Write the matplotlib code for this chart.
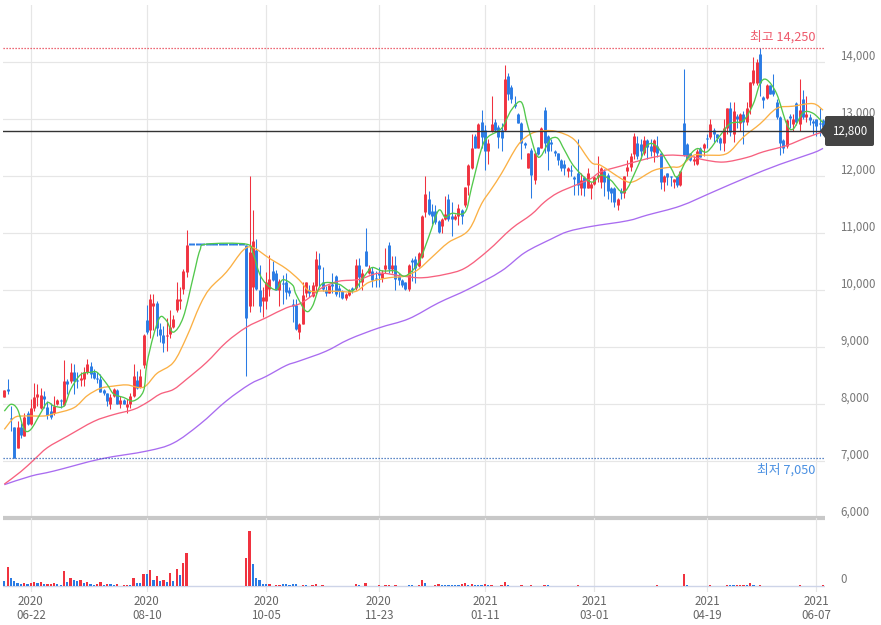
import matplotlib
matplotlib.use("Agg")
import matplotlib.pyplot as plt
from matplotlib.patches import FancyBboxPatch, PathPatch, Polygon
from matplotlib.path import Path
from matplotlib.transforms import Affine2D
import numpy as np

plt.rcParams["font.family"] = ["Noto Sans CJK KR", "DejaVu Sans"]

# =========================
# DATA
# =========================

FLAT = 17  # trading halt, price stays at 10800

opens = [
    8120, 8260, 7760, 7600, 7240, 7600, 7440, 7840, 7650, 7940,
    8120, 7940, 8150, 7950, 7880, 7850, 8000, 8070, 7990, 8410,
    8400, 8560, 8420, 8420, 8440, 8560, 8680, 8560, 8470, 8440,
    8250, 8190, 8000, 8140, 8250, 8000, 8080, 7960, 8010, 8150,
    8420, 8310, 8690, 9480, 9310, 9720, 9780, 9320, 9210, 9190,
    9230, 9360, 9650, 9820, 10020, 10320] + [10800] * FLAT + [
    10800, 9720, 10060, 10700, 10010, 9810, 9810,
    10030, 10340, 10310, 10010, 10120, 10140, 10010, 9750, 9750, 9260,
    9410, 9960, 10010, 9900, 10080, 10440, 10140, 10010, 9960, 10100,
    10250, 10040, 9980, 9860, 9920, 10030, 10040, 10450, 10140, 10690,
    10310, 10340, 10200, 10290, 10220, 10370, 10800, 10370, 10450, 10250,
    10180, 10140, 10020, 10530, 10550, 10430, 10580, 11370, 11600, 11390,
    11390, 11210, 11130, 11250, 11600, 11310, 11250, 11310, 11400, 11490,
    11840, 12150, 12700, 12500, 12950, 12810, 12450, 12790, 12950, 12860,
    12810, 12810, 13760, 13560, 13260, 13100, 12940, 12590, 12150, 12460,
    11940, 12510, 12500, 13160, 12710, 12600, 12450, 12400, 12290, 12210,
    12090, 12110, 11990, 12050, 11800, 11990, 11800, 11800, 11860, 11990,
    11900, 12100, 12030, 11800, 11800, 11490, 11750, 11700, 12090, 12160,
    12390, 12590, 12560, 12400, 12640, 12530, 12430, 12540, 12400, 11900,
    12050, 12000, 11900, 12000, 11840, 12940, 12560, 12400, 12270, 12210,
    12490, 12490, 12670, 12690, 12810, 12740, 12680, 12590, 12850, 13200,
    12750, 13050, 12940, 13100, 12950, 13220, 13640, 13640, 14150, 13390,
    13380, 13600, 13510, 13300, 13040, 12640, 12540, 13050, 12920, 13290,
    12920, 13350, 13040, 13040, 12960, 13000, 12930, 12980]

closes = [
    8250, 8240, 7740, 7060, 7610, 7470, 7780, 7660, 7940, 8130,
    8180, 8160, 8090, 7810, 7780, 7970, 8080, 8050, 8410, 8360,
    8560, 8410, 8400, 8470, 8560, 8710, 8540, 8470, 8440, 8220,
    8190, 8050, 8120, 8260, 8010, 8070, 8010, 8000, 8140, 8500,
    8280, 8500, 9220, 9260, 9850, 9780, 9330, 9210, 9070, 9210,
    9360, 9500, 9840, 9850, 10340, 10800] + [10800] * FLAT + [
    9510, 10680, 10860, 10030, 9730, 9890, 10150,
    10200, 10180, 10010, 10170, 10110, 9970, 9960, 9730, 9320, 9400,
    9910, 10140, 9960, 10090, 10550, 10380, 10020, 9960, 10090, 10080,
    9930, 9990, 9860, 9930, 10010, 10010, 10450, 10240, 10300, 10430,
    10390, 10180, 10190, 10270, 10310, 10450, 10370, 10450, 10190, 10180,
    10090, 10020, 10450, 10490, 10390, 10650, 11310, 11690, 11340, 11310,
    11190, 11030, 11250, 11340, 11250, 11250, 11310, 11450, 11300, 11810,
    12200, 12500, 12500, 12910, 12690, 12450, 12590, 12920, 12810, 12690,
    12670, 13710, 13450, 13350, 13240, 12940, 12590, 12550, 12400, 12030,
    12400, 12390, 12850, 12590, 12450, 12570, 12400, 12290, 12150, 12150,
    12150, 12090, 11950, 11840, 11940, 11800, 12050, 11870, 11990, 12030,
    12150, 11900, 11750, 11700, 11550, 11610, 11700, 12000, 12160, 12350,
    12700, 12350, 12450, 12640, 12510, 12440, 12640, 12400, 11900, 12000,
    11990, 11980, 11950, 11840, 12090, 12370, 12310, 12290, 12300, 12440,
    12340, 12560, 12650, 12910, 12740, 12680, 12580, 12850, 13200, 12780,
    13150, 13000, 13100, 12950, 13200, 13650, 13860, 14000, 13640, 13330,
    13600, 13450, 13440, 13040, 12590, 12490, 12990, 13030, 13010, 12950,
    13160, 13040, 13100, 12980, 12940, 12890, 12910, 12870]

highs = [
    8250, 8440, 7970, 7600, 7700, 7680, 7850, 7880, 8090, 8380,
    8350, 8290, 8240, 8060, 8030, 8150, 8090, 8090, 8780, 8440,
    8730, 8710, 8560, 8560, 8650, 8790, 8740, 8620, 8560, 8530,
    8270, 8200, 8180, 8290, 8260, 8150, 8100, 8090, 8200, 8700,
    8590, 8620, 9240, 9750, 9930, 9930, 9820, 9420, 9380, 9520,
    9660, 9570, 10150, 10060, 10380, 11050] + [10800] * FLAT + [
    10800, 12000, 11400, 10900, 10440, 10060, 10320,
    10620, 10520, 10350, 10200, 10260, 10300, 10060, 9850, 9850, 9420,
    10140, 10140, 10100, 10140, 10690, 10660, 10400, 10080, 10100, 10310,
    10260, 10100, 10000, 9960, 10020, 10050, 10550, 10560, 10370, 11090,
    10450, 10400, 10340, 10400, 10350, 10750, 10850, 10600, 10610, 10300,
    10200, 10150, 10470, 10560, 10600, 10680, 11320, 12000, 11740, 11510,
    11490, 11230, 11260, 11650, 11690, 11550, 11330, 11520, 11420, 11820,
    12210, 12740, 12740, 12930, 13160, 12900, 12650, 13410, 13000, 12900,
    12930, 13950, 13810, 13600, 13410, 13110, 12950, 12600, 12410, 12500,
    12420, 12520, 12860, 13220, 12730, 12650, 12460, 12410, 12300, 12290,
    12160, 12200, 12000, 12650, 12050, 12000, 12150, 11900, 12010, 12350,
    12170, 12130, 12050, 11810, 11820, 11620, 11800, 12010, 12280, 12400,
    12760, 12700, 12650, 12700, 12650, 12650, 12650, 12700, 12410, 12020,
    12060, 12010, 11960, 12010, 12100, 13890, 12590, 12410, 12350, 12480,
    12510, 12590, 12750, 13000, 12850, 12750, 12690, 13000, 13200, 13300,
    13300, 13100, 13110, 13150, 13300, 13660, 14100, 14060, 14250, 13400,
    13620, 13610, 13800, 13350, 13050, 12650, 13000, 13100, 13100, 13300,
    13700, 13510, 13400, 13100, 13000, 13010, 13200, 13000]

lows = [
    8120, 8180, 7530, 7050, 7240, 7410, 7440, 7640, 7640, 7880,
    7970, 7910, 7940, 7740, 7750, 7820, 7980, 7940, 7970, 8180,
    8380, 8180, 8290, 8320, 8320, 8530, 8470, 8440, 8380, 8210,
    8170, 7970, 7910, 8130, 8000, 7940, 8000, 7840, 7940, 8120,
    8260, 8290, 8640, 9230, 9160, 9310, 9190, 9090, 8910, 8940,
    9160, 9340, 9620, 9680, 9940, 10230] + [10800] * FLAT + [
    8500, 9620, 9730, 10000, 9620, 9540, 9680,
    9900, 10170, 10000, 9730, 9760, 9850, 9900, 9440, 9300, 9150,
    9400, 9880, 9880, 9880, 9930, 10080, 9990, 9900, 9950, 9950,
    9900, 9880, 9850, 9830, 9900, 9950, 10010, 10050, 10010, 10420,
    10290, 10050, 10060, 10050, 10150, 10300, 10300, 10300, 10010, 10100,
    10050, 10000, 9990, 10160, 10120, 10400, 10570, 11280, 11320, 11160,
    11170, 11010, 11000, 11230, 11220, 10960, 11240, 11150, 11160, 11470,
    11680, 12130, 12490, 12490, 12500, 12110, 12210, 12770, 12790, 12490,
    12440, 12800, 13330, 13280, 13200, 12930, 12310, 12500, 12140, 11620,
    11860, 12380, 12490, 12400, 12110, 12450, 12350, 12190, 12100, 12030,
    11990, 12000, 11670, 11670, 11670, 11650, 11790, 11610, 11850, 11900,
    11800, 11650, 11600, 11550, 11460, 11400, 11600, 11620, 12000, 12100,
    12300, 12310, 12300, 12380, 12310, 12350, 12250, 12340, 11780, 11750,
    11850, 11830, 11800, 11810, 11830, 12350, 12290, 12260, 12200, 12190,
    12330, 12350, 12500, 12650, 12600, 12600, 12460, 12450, 12750, 12700,
    12600, 12850, 12790, 12570, 12900, 13100, 13600, 13600, 13400, 13200,
    13350, 13440, 13400, 13000, 12370, 12400, 12500, 12850, 12800, 12900,
    12800, 13000, 12950, 12900, 12750, 12700, 12700, 12720]

ma5_idx = [0, 2, 4, 6, 8, 11, 13, 15, 18, 20, 23, 26, 28, 31, 33, 36, 39, 42, 43, 45,
           47, 49, 51, 54, 57, 59, 61, 73, 75, 77, 79, 82, 84, 87, 88, 91, 93, 95, 97, 101,
           105, 109, 111, 114, 118, 121, 125, 128, 131, 133, 135, 139, 141, 144, 146, 150,
           153, 156, 158, 161, 164, 165, 167, 169, 172, 177, 180, 183, 187, 191, 194, 197,
           201, 203, 206, 209, 212, 216, 219, 223, 226, 228, 230, 233, 236, 238, 241, 244, 247]
ma5_val = [7880, 8000, 7910, 7560, 7560, 7850, 8030, 7970, 7970, 8260, 8520, 8560, 8560, 8350, 8180, 8120, 8060, 8235, 8705, 9205,
           9530, 9460, 9265, 9530, 10235, 10700, 10810, 10810, 10650, 10290, 10115, 10010, 10185, 10090, 9930, 9635, 9725, 10050, 10135, 10105,
           9990, 10280, 10400, 10340, 10340, 10250, 10490, 10930, 11400, 11280, 11350, 11370, 11810, 12490, 12695, 12840,
           13165, 13300, 12870, 12340, 12575, 12665, 12665, 12460, 12165, 11900, 12020, 11930, 11725, 12160, 12545, 12515,
           12160, 11990, 12310, 12485, 12430, 12720, 12925, 12980, 13275, 13625, 13695, 13450, 12925, 12830, 13115, 13105, 12940]

ma20_idx = [0, 3, 6, 12, 15, 21, 25, 29, 33, 37, 42, 46, 51, 55, 59, 62, 67, 72, 75, 80,
            85, 89, 92, 96, 101, 106, 110, 116, 121, 125, 129, 134, 140, 144, 147, 150, 155,
            159, 163, 167, 172, 177, 180, 187, 190, 196, 201, 204, 208, 212, 218, 223, 228, 233, 238, 244, 247]
ma20_val = [7560, 7765, 7795, 7795, 7835, 7940, 8150, 8280, 8320, 8340, 8300, 8540, 8735, 9180, 9735, 10030, 10320, 10700, 10750, 10560,
            10380, 10180, 9990, 9990, 9980, 9980, 10140, 10220, 10250, 10370, 10580, 10840, 11050, 11520, 11780, 12050, 12550,
            12750, 12800, 12780, 12640, 12250, 12190, 11930, 11910, 12105, 12160, 12175, 12370, 12370, 12400, 12690, 12920, 13190, 13230, 13275, 13160]

ma60_idx = [0, 5, 9, 13, 19, 27, 33, 39, 43, 47, 51, 55, 61, 67, 73, 79, 85, 89, 92, 96, 101,
            107, 113, 120, 126, 133, 139, 146, 153, 159, 163, 167, 173, 177, 180, 186, 194, 200,
            207, 211, 217, 224, 229, 236, 242, 247]
ma60_val = [6600, 6820, 7030, 7240, 7440, 7700, 7820, 7910, 8030, 8180, 8260, 8440, 8735, 9090, 9350, 9520, 9690, 9760, 9870, 10050, 10160,
            10190, 10300, 10250, 10220, 10280, 10390, 10700, 11080, 11330, 11550, 11710, 11860, 11960, 12080, 12180, 12310, 12370,
            12350, 12290, 12250, 12330, 12430, 12540, 12680, 12780]

ma120_idx = [0, 8, 15, 29, 43, 51, 59, 67, 74, 79, 85, 89, 97, 104, 113, 122, 131, 140, 150, 157,
             165, 170, 177, 188, 194, 204, 214, 224, 234, 244, 247]
ma120_val = [6590, 6740, 6830, 7040, 7180, 7320, 7650, 8060, 8350, 8490, 8680, 8760, 8930, 9140, 9340, 9500, 9780, 10020, 10340, 10660,
             10900, 11030, 11120, 11220, 11320, 11480, 11730, 11980, 12210, 12410, 12490]

# volume, only the days with a visible bar
vol_idx = [0, 1, 2, 3, 4, 5, 6, 7, 8, 9, 10, 11, 12, 13, 14, 15, 16, 17, 18, 19,
           20, 21, 22, 23, 24, 25, 26, 27, 28, 29, 30, 31, 32, 33, 34, 36, 37, 38, 39, 40,
           41, 42, 43, 44, 45, 46, 47, 48, 49, 50, 51, 52, 53, 54, 55,
           73, 74, 75, 76, 77, 78, 79, 80, 82, 83, 84, 85, 86, 87, 88, 90, 91, 93, 94, 96,
           106, 107, 109, 113, 115, 116, 118, 122, 123, 125, 126, 127, 130, 131,
           132, 133, 134, 135, 136, 137, 138, 139, 140, 141, 142, 143, 144, 145, 146, 147,
           150, 151, 152, 156, 159, 163, 164, 173, 197, 205, 206, 213,
           218, 219, 220, 221, 222, 223, 224, 225, 226, 228, 240, 247]
vol_val = [16, 58, 25, 15, 10, 6, 9, 6, 9, 12, 9, 12, 6, 6, 6, 9, 6, 3, 45, 12,
           25, 18, 15, 18, 9, 12, 6, 3, 6, 12, 3, 6, 6, 3, 6, 3, 3, 3, 25, 9,
           9, 36, 36, 48, 18, 30, 15, 18, 12, 39, 15, 51, 33, 69, 99,
           84, 165, 66, 24, 18, 6, 6, 6, 3, 3, 6, 6, 3, 6, 6, 3, 3, 3, 6, 3,
           6, 3, 9, 3, 3, 3, 3, 3, 3, 3, 18, 9, 3, 6,
           3, 3, 3, 3, 3, 3, 6, 9, 3, 6, 3, 3, 3, 6, 3, 3,
           3, 12, 3, 3, 3, 3, 3, 3, 3, 36, 3, 3,
           3, 3, 3, 3, 3, 3, 3, 9, 3, 3, 3, 3]
vol_dir = ["b", "r", "b", "b", "b", "b", "r", "b", "r", "r", "b", "r", "b", "r", "r", "r", "b", "b", "r", "b",
           "r", "b", "b", "r", "b", "r", "b", "b", "r", "r", "b", "r", "b", "b", "r", "r", "r", "b", "r", "b",
           "b", "r", "b", "r", "b", "r", "b", "r", "b", "r", "b", "r", "b", "r", "r",
           "r", "r", "b", "b", "b", "b", "b", "r", "r", "r", "b", "b", "b", "b", "b", "r", "b", "r", "r", "r",
           "r", "b", "r", "r", "r", "r", "r", "b", "b", "r", "r", "b", "r", "r",
           "b", "b", "b", "b", "b", "b", "r", "r", "b", "r", "b", "b", "b", "r", "b", "r",
           "r", "r", "b", "r", "r", "r", "b", "r", "r", "r", "b", "r",
           "r", "b", "b", "r", "r", "r", "b", "r", "b", "r", "r", "r"]

tick_idx = [8, 43, 79, 113, 145, 178, 212, 245]
tick_labels = ["2020\n06-22", "2020\n08-10", "2020\n10-05", "2020\n11-23",
               "2021\n01-11", "2021\n03-01", "2021\n04-19", "2021\n06-07"]
price_ticks = [6000, 7000, 8000, 9000, 10000, 11000, 12000, 13000, 14000]
max_price = 14250
min_price = 7050
last_price = 12800

# =========================
# COLORS
# =========================

RED = "#f0323f"
BLUE = "#2a7be4"
GRID = "#e6e6e6"
TEXT = "#777777"

# =========================
# FIGURE
# =========================

W, H = 881, 625
fig = plt.figure(figsize=(W / 100, H / 100), dpi=100)
px = Affine2D().scale(1, -1).translate(0, H)  # picture pixels, y down

L, R = 3, 825
ax = fig.add_axes([L / W, 1 - 518.3 / H, (R - L) / W, (518.3 - 5.3) / H])
ax_vol = fig.add_axes([L / W, 1 - 592 / H, (R - L) / W, (592 - 518.3) / H])


def curve(a, xs, ys, color):
    # smooth line through the read values
    pts = np.column_stack([xs, ys]).astype(float)
    verts = [pts[0]]
    for i in range(len(pts) - 1):
        p0 = pts[max(i - 1, 0)]
        p1 = pts[i]
        p2 = pts[i + 1]
        p3 = pts[min(i + 2, len(pts) - 1)]
        verts += [p1 + (p2 - p0) / 6, p2 - (p3 - p1) / 6, p2]
    codes = [Path.MOVETO] + [Path.CURVE4] * (len(verts) - 1)
    a.add_patch(PathPatch(Path(verts, codes), fc="none", ec=color, lw=0.95, zorder=4))


x = np.arange(len(opens))
o = np.array(opens)
c = np.array(closes)
up = c >= o
up[56:73] = False
colors = np.where(up, RED, BLUE)

# wicks and bodies, bodies as thick lines so they all get the same width
ax.vlines(x, lows, highs, colors=colors, lw=0.75, zorder=3)
ax.vlines(x, np.minimum(o, c), np.maximum(np.maximum(o, c), np.minimum(o, c) + 25),
          colors=colors, lw=2.1, capstyle="butt", zorder=3)

curve(ax, ma120_idx, ma120_val, "#a96cf0")
curve(ax, ma60_idx, ma60_val, "#f7617f")
curve(ax, ma20_idx, ma20_val, "#fbb044")
curve(ax, ma5_idx, ma5_val, "#52c84c")

# max / min / last lines
ax.axhline(max_price, color="#e8394a", lw=0.9, ls=(0, (1, 1.4)), zorder=5)
ax.axhline(min_price, color="#2b62b5", lw=0.9, ls=(0, (1, 1.4)), zorder=5)
ax.axhline(last_price, color="#333333", lw=1.0, zorder=5)

fig.text(815, 37, f"최고 {max_price:,}", color="#ee5a6c", fontsize=9.2, ha="right", va="center", transform=px)
fig.text(815, 470, f"최저 {min_price:,}", color="#4a90e2", fontsize=9.2, ha="right", va="center", transform=px)

# current price tag
fig.add_artist(FancyBboxPatch((825, 116), 49, 30, boxstyle="round,pad=0,rounding_size=2",
                              fc="#444444", ec="none", transform=px))
fig.add_artist(Polygon([(825, 124), (820, 131), (825, 138)], fc="#444444", ec="none", transform=px))
fig.text(849.5, 131, f"{last_price:,}", color="white", fontsize=8.3, ha="center", va="center", transform=px)

for a in (ax, ax_vol):
    a.set_xlim(-0.4, 247.6)
    for s in a.spines.values():
        s.set_visible(False)
    a.set_facecolor("none")
    a.yaxis.tick_right()
    a.tick_params(length=0, labelsize=8.3, labelcolor=TEXT, pad=11)
    a.set_xticks(tick_idx)
    a.grid(True, color=GRID, lw=0.85, zorder=0)
    a.set_axisbelow(True)

ax.set_ylim(6000, 15000)
ax.set_yticks(price_ticks)
ax.set_yticklabels([f"{v:,}" for v in price_ticks], va="bottom")
ax.tick_params(axis="x", labelbottom=False)
ax.axhline(6000, color="#c8c8c8", lw=3, clip_on=False, zorder=5, solid_capstyle="butt")

# volume panel
vol_colors = [RED if d == "r" else BLUE for d in vol_dir]
ax_vol.bar(vol_idx, vol_val, width=0.68, color=vol_colors, lw=0, zorder=3)
ax_vol.axhline(0, color="#cdd4e8", lw=1.0, zorder=2)
ax_vol.set_ylim(-17, 204)
ax_vol.set_yticks([0])
ax_vol.set_yticklabels(["0"], va="bottom")
ax_vol.grid(False, axis="y")
ax_vol.set_xticklabels(tick_labels, fontsize=8.3, color="#666666", linespacing=1.15)
ax_vol.tick_params(axis="x", pad=2)

fig.savefig("out.png", dpi=100)
